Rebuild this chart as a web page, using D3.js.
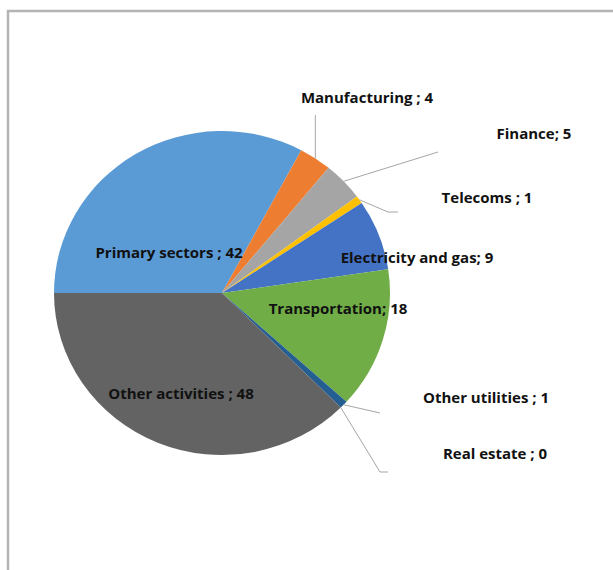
<!DOCTYPE html>
<html>
<head>
<meta charset="utf-8">
<script src="https://cdn.jsdelivr.net/npm/d3@7/dist/d3.min.js"></script>
<style>
  body { margin: 0; background: #fff; overflow: hidden; }
  .lbl { font-family: "Open Sans", sans-serif; font-weight: bold; font-size: 15px; fill: #111; }
</style>
</head>
<body>
<div id="chart"></div>
<script>
// Data
var sectors = ["Primary sectors", "Manufacturing", "Finance", "Telecoms", "Electricity and gas",
               "Transportation", "Other utilities", "Real estate", "Other activities"];
var values  = [42, 4, 5, 1, 9, 18, 1, 0, 48];
var labels  = ["Primary sectors ; 42", "Manufacturing ; 4", "Finance; 5", "Telecoms ; 1",
               "Electricity and gas; 9", "Transportation; 18", "Other utilities ; 1",
               "Real estate ; 0", "Other activities ; 48"];
var colors  = ["#5b9bd5", "#ed7d31", "#a5a5a5", "#ffc000", "#4472c4",
               "#70ad47", "#255e91", "#9e480e", "#636363"];

// Layout
var width = 613, height = 570;
var cx = 222, cy = 293, r = 162, sx = 168 / 162;

// label centres, and leader elbows (null = label sits inside the slice)
var labelPos = {
  "Primary sectors":     {x: 169, y: 252, lead: null},
  "Manufacturing":       {x: 367, y: 97,  lead: "vert", to: [[null, 115]]},
  "Finance":             {x: 534, y: 133, lead: "line", to: [[438, 152]]},
  "Telecoms":            {x: 487, y: 197, lead: "line", to: [[388, 212], [398, 212]]},
  "Electricity and gas": {x: 417, y: 257, lead: null},
  "Transportation":      {x: 338, y: 308, lead: null},
  "Other utilities":     {x: 486, y: 397, lead: "line", to: [[380, 413]]},
  "Real estate":         {x: 495, y: 453, lead: "line", to: [[380, 472], [388, 472]]},
  "Other activities":    {x: 181, y: 393, lead: null}
};

var svg = d3.select("#chart").append("svg")
  .attr("width", width)
  .attr("height", height)
  .style("display", "block");

// outer frame: only the top and left edges show in the picture
svg.append("path")
  .attr("d", "M8," + height + "V11H" + width)
  .attr("fill", "none")
  .attr("stroke", "#b4b4b4")
  .attr("stroke-width", 2.5);

var pie = d3.pie()
  .sort(null)
  .value(function(d) { return d.value; })
  .startAngle(-Math.PI / 2)
  .endAngle(3 * Math.PI / 2);

var data = sectors.map(function(s, i) {
  return {name: s, value: values[i], label: labels[i], color: colors[i]};
});
var arcs = pie(data);

var arc = d3.arc().innerRadius(0).outerRadius(r);

var g = svg.append("g")
  .attr("transform", "translate(" + cx + "," + cy + ") scale(" + sx + ",1)");

g.selectAll("path")
  .data(arcs)
  .enter()
  .append("path")
  .attr("d", arc)
  .attr("fill", function(d) { return d.data.color; });

// rim point of a slice in page coordinates
function rimPoint(d) {
  var a = (d.startAngle + d.endAngle) / 2;
  return [cx + r * sx * Math.sin(a), cy - r * Math.cos(a)];
}

// leader lines
arcs.forEach(function(d) {
  var p = labelPos[d.data.name];
  if (!p.lead) return;
  var start = rimPoint(d);
  var pts = [start];
  p.to.forEach(function(q) {
    pts.push([q[0] === null ? start[0] : q[0], q[1]]);
  });
  svg.append("path")
    .attr("d", d3.line()(pts))
    .attr("fill", "none")
    .attr("stroke", "#a6a6a6")
    .attr("stroke-width", 1);
});

// labels
svg.selectAll("text.lbl")
  .data(arcs)
  .enter()
  .append("text")
  .attr("class", "lbl")
  .attr("x", function(d) { return labelPos[d.data.name].x; })
  .attr("y", function(d) { return labelPos[d.data.name].y; })
  .attr("text-anchor", "middle")
  .attr("dominant-baseline", "central")
  .text(function(d) { return d.data.label; });
</script>
</body>
</html>
